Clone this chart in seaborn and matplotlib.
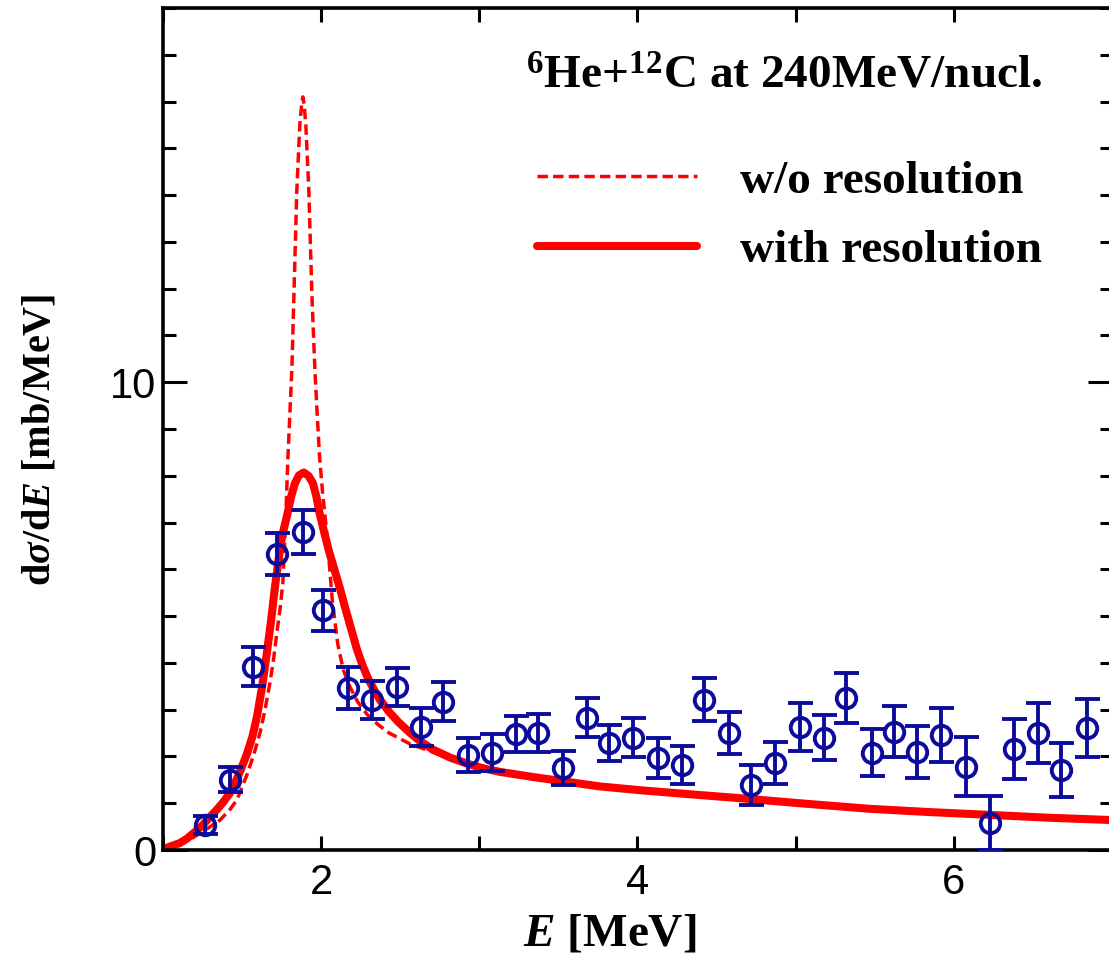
import numpy as np
import pandas as pd
import matplotlib
matplotlib.use("Agg")
import matplotlib.pyplot as plt
import seaborn as sns
from matplotlib.ticker import FixedLocator, MultipleLocator
from matplotlib.lines import Line2D

# ---------------- data ----------------
E_data = [1.265, 1.423, 1.57, 1.72, 1.884, 2.01, 2.17, 2.32, 2.48, 2.63,
          2.77, 2.93, 3.08, 3.23, 3.37, 3.53, 3.68, 3.82, 3.97, 4.13,
          4.28, 4.42, 4.58, 4.72, 4.87, 5.03, 5.18, 5.32, 5.48, 5.62,
          5.77, 5.92, 6.08, 6.23, 6.38, 6.53, 6.68, 6.84]
sigma_data = [0.535, 1.5, 3.92, 6.32, 6.79, 5.12, 3.47, 3.21, 3.49, 2.63,
              3.17, 2.03, 2.08, 2.48, 2.5, 1.76, 2.83, 2.29, 2.4, 1.97,
              1.82, 3.21, 2.51, 1.39, 1.86, 2.63, 2.4, 3.25, 2.08, 2.53,
              2.1, 2.46, 1.78, 0.58, 2.16, 2.5, 1.71, 2.61]
sigma_err = [0.19, 0.27, 0.42, 0.45, 0.47, 0.43, 0.45, 0.40, 0.41, 0.41,
             0.42, 0.36, 0.39, 0.39, 0.40, 0.36, 0.42, 0.39, 0.42, 0.43,
             0.41, 0.46, 0.45, 0.43, 0.45, 0.52, 0.48, 0.53, 0.50, 0.55,
             0.56, 0.58, 0.63, 0.57, 0.65, 0.64, 0.58, 0.62]

# calculation with resolution (solid)
E_res = [1.00, 1.05, 1.107, 1.15, 1.20, 1.25, 1.297, 1.34, 1.38, 1.42,
         1.455, 1.49, 1.53, 1.565, 1.594, 1.627, 1.657, 1.685, 1.707, 1.727,
         1.745, 1.765, 1.783, 1.81, 1.834, 1.86, 1.89, 1.92, 1.948, 1.97,
         1.99, 2.02, 2.05, 2.085, 2.118, 2.15, 2.19, 2.225, 2.26, 2.30,
         2.335, 2.37, 2.43, 2.49, 2.56, 2.62, 2.71, 2.82, 2.92, 3.02,
         3.13, 3.34, 3.55, 3.76, 4.01, 4.30, 4.64, 5.06, 5.47, 5.85,
         6.23, 6.60, 7.00]
sigma_res = [0.02, 0.08, 0.15, 0.24, 0.38, 0.53, 0.71, 0.86, 1.02, 1.2,
             1.43, 1.7, 2.05, 2.42, 2.85, 3.5, 4.22, 4.95, 5.6, 6.12,
             6.55, 6.88, 7.13, 7.55, 7.84, 8.01, 8.07, 8.0, 7.84, 7.55,
             7.2, 6.78, 6.38, 5.98, 5.6, 5.2, 4.72, 4.3, 3.96, 3.64,
             3.42, 3.22, 2.95, 2.73, 2.51, 2.34, 2.14, 1.97, 1.85, 1.75,
             1.67, 1.56, 1.46, 1.36, 1.28, 1.2, 1.11, 0.99, 0.88, 0.81,
             0.75, 0.69, 0.64]

# calculation without resolution (dashed)
E_nores = [1.00, 1.10, 1.17, 1.234, 1.30, 1.36, 1.42, 1.467, 1.53, 1.575,
           1.613, 1.645, 1.676, 1.70, 1.72, 1.74, 1.758, 1.775, 1.79, 1.803,
           1.815, 1.828, 1.846, 1.865, 1.877, 1.884, 1.892, 1.903, 1.922, 1.941,
           1.96, 1.975, 1.99, 2.01, 2.035, 2.07, 2.105, 2.14, 2.18, 2.23,
           2.29, 2.36, 2.43, 2.56, 2.70, 2.82, 2.92, 3.02, 3.13, 3.34,
           3.55, 3.76, 4.01, 4.30, 4.64, 5.06, 5.47, 5.85, 6.23, 6.60,
           7.00]
sigma_nores = [0.0, 0.12, 0.22, 0.36, 0.5, 0.64, 0.85, 1.07, 1.6, 2.05,
               2.5, 3.0, 3.57, 4.1, 4.65, 5.15, 5.72, 7.0, 8.4, 9.4,
               10.3, 11.9, 14.1, 15.5, 15.95, 16.1, 15.95, 15.5, 14.1, 11.9,
               10.3, 9.3, 8.4, 7.6, 6.8, 5.35, 4.4, 3.85, 3.5, 3.17,
               2.9, 2.68, 2.5, 2.27, 2.1, 1.96, 1.85, 1.75, 1.67, 1.56,
               1.46, 1.36, 1.28, 1.2, 1.11, 0.99, 0.88, 0.81, 0.75, 0.69,
               0.64]

xtick_values = [2, 4, 6]
xminor_values = [1, 3, 5, 7]
ytick_values = [0, 10, 20]
ytick_labels = ["0", "10", ""]

title_text = r"$^{6}$He+$^{12}$C at 240MeV/nucl."
label_nores = "w/o resolution"
label_res = "with resolution"
xlabel_text = r"$E$ [MeV]"
ylabel_text = r"d$\sigma$/d$E$ [mb/MeV]"

# ---------------- style ----------------
sns.set_theme(style="ticks")
plt.rcParams["font.family"] = ["Liberation Serif", "DejaVu Serif"]
plt.rcParams["mathtext.fontset"] = "custom"
plt.rcParams["mathtext.rm"] = "Liberation Serif:bold"
plt.rcParams["mathtext.bf"] = "Liberation Serif:bold"
plt.rcParams["mathtext.it"] = "Liberation Serif:bold:italic"
plt.rcParams["axes.linewidth"] = 2.6
plt.rcParams["text.color"] = "black"
plt.rcParams["axes.labelcolor"] = "black"
plt.rcParams["xtick.color"] = "black"
plt.rcParams["ytick.color"] = "black"
plt.rcParams["axes.edgecolor"] = "black"

RED = "#ff0000"
BLUE = "#0c0c9c"

fig = plt.figure(figsize=(11.09, 9.59), dpi=100)
ax = fig.add_axes([163 / 1109, 109 / 959, 949 / 1109, 842 / 959])

df_res = pd.DataFrame({"E": E_res, "sigma": sigma_res})
df_nores = pd.DataFrame({"E": E_nores, "sigma": sigma_nores})

sns.lineplot(data=df_nores, x="E", y="sigma", ax=ax, color=RED, lw=2.5,
             estimator=None, sort=False)
ax.lines[-1].set_dashes((3.0, 1.5))
sns.lineplot(data=df_res, x="E", y="sigma", ax=ax, color=RED, lw=5.8,
             estimator=None, sort=False)
ax.lines[-1].set_solid_joinstyle("round")

ax.errorbar(E_data, sigma_data, yerr=sigma_err, fmt="o", ms=14,
            mfc="none", mec=BLUE, mew=2.8, color=BLUE, ecolor=BLUE,
            elinewidth=2.8, capsize=9, capthick=2.8, zorder=5)

ax.set_xlim(1.0, 7.0)
ax.set_ylim(0, 18)

ax.xaxis.set_major_locator(FixedLocator(xtick_values))
ax.xaxis.set_minor_locator(FixedLocator(xminor_values))
ax.yaxis.set_major_locator(FixedLocator(ytick_values))
ax.yaxis.set_minor_locator(MultipleLocator(1))
ax.set_xticklabels([str(v) for v in xtick_values], fontsize=30,
                   fontfamily="Liberation Sans")
ax.set_yticklabels(ytick_labels, fontsize=30, fontfamily="Liberation Sans")

ax.tick_params(which="both", direction="in", top=True, right=True,
               width=2.2, color="black", labelcolor="black")
ax.tick_params(axis="x", which="both", length=10, pad=9)
ax.tick_params(axis="y", which="major", length=17, pad=5)
ax.tick_params(axis="y", which="minor", length=9)

for s in ax.spines.values():
    s.set_color("black")
    s.set_linewidth(2.6)

ax.set_xlabel(xlabel_text, fontsize=34, fontweight="bold")
ax.xaxis.set_label_coords(0.4705, -0.076)
ax.set_ylabel(ylabel_text, fontsize=29, fontweight="bold")
ax.yaxis.set_label_coords(-0.11, 0.487)

ax.text(0.655, 0.918, title_text, transform=ax.transAxes, fontsize=34,
        fontweight="bold", ha="center", va="center")

handles = [Line2D([], [], color=RED, lw=2.5, dashes=(3.0, 1.5)),
           Line2D([], [], color=RED, lw=5.8)]
leg = ax.legend(handles, [label_nores, label_res], loc="upper left",
                bbox_to_anchor=(0.394, 0.820), frameon=False,
                prop={"family": "Liberation Serif", "weight": "bold", "size": 34},
                handlelength=3.4, handletextpad=0.9, labelspacing=0.56,
                borderpad=0, borderaxespad=0)
for t in leg.get_texts():
    t.set_color("black")

fig.savefig("out.png", dpi=100)
